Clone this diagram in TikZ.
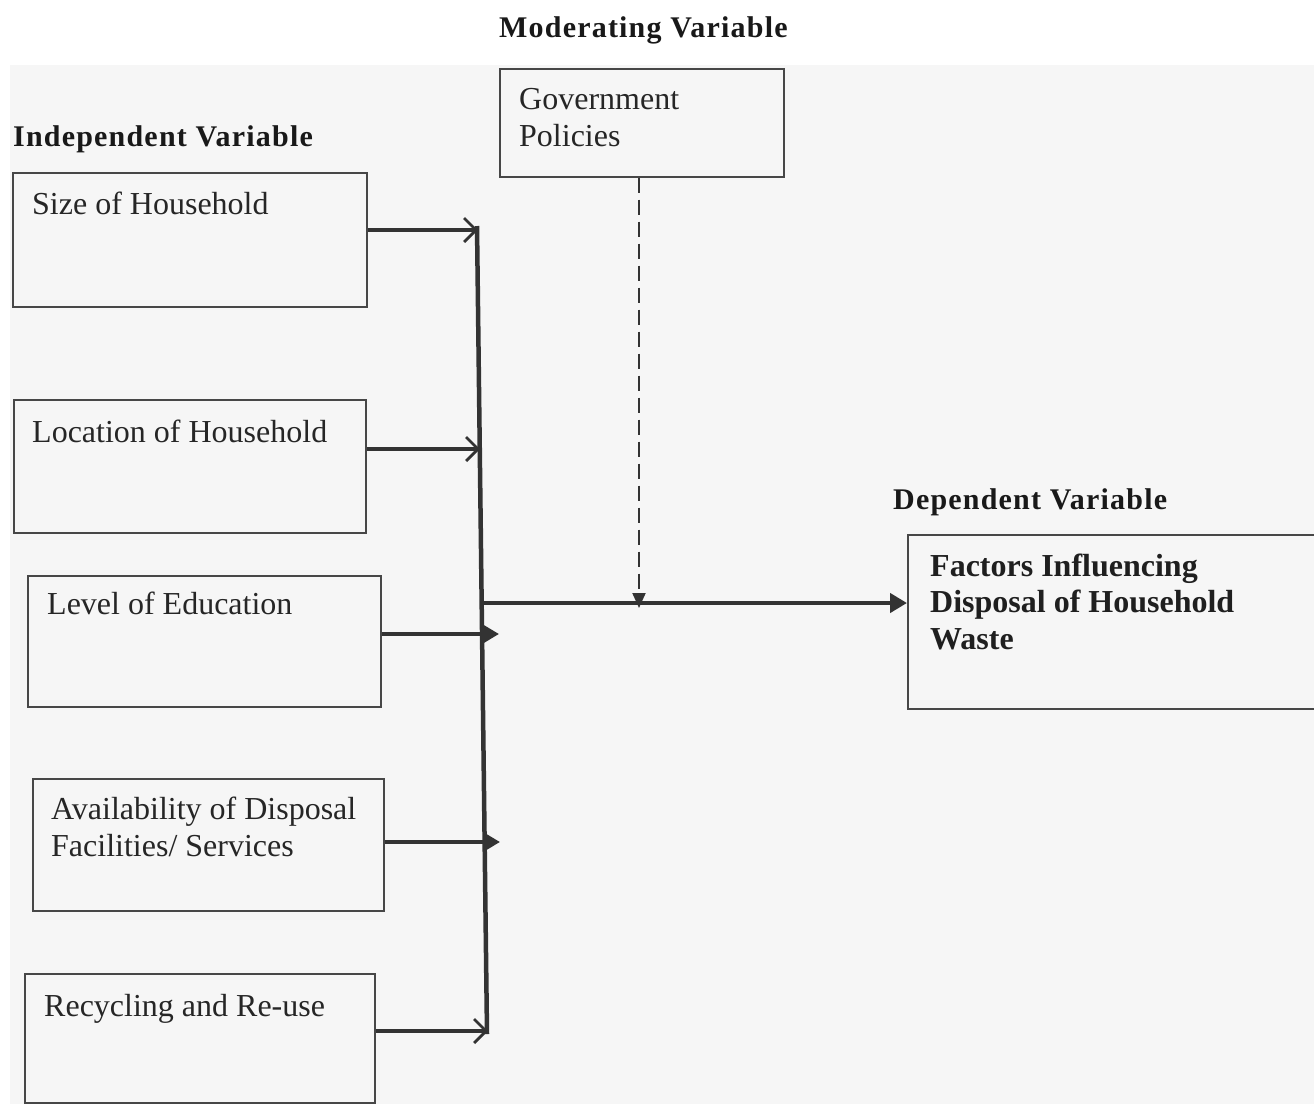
\documentclass[tikz,border=0pt]{standalone}
\usepackage{fontspec}
\setmainfont{Liberation Serif}
\newfontfamily\headfont[LetterSpace=4]{Liberation Serif}
\usetikzlibrary{arrows.meta,calc}
\begin{document}
\begin{tikzpicture}[x=1pt,y=-1pt,
  box/.style={draw=black!72, line width=1.6pt, anchor=north west, inner sep=0pt},
  txt/.style={anchor=base west, inner sep=0pt, font=\fontsize{32}{37}\selectfont, text=black!85},
  btxt/.style={anchor=base west, inner sep=0pt, font=\bfseries\fontsize{32}{37}\selectfont, text=black!88},
  head/.style={anchor=base west, inner sep=0pt, font=\headfont\bfseries\fontsize{30}{34}\selectfont, text=black!90},
  conn/.style={line width=4pt, draw=black!80},
  barb/.style={-{Straight Barb[length=12pt,width=24pt,line width=2.8pt]}},
  tri/.style={-{Triangle[length=17pt,width=19pt]}}]
\clip (0,0) rectangle (1314,1104);
\useasboundingbox (0,0) rectangle (1314,1104);
\fill[white] (0,0) rectangle (1314,1104);
\fill[gray!7] (10,65) rectangle (1314,1104);

% headings
\node[head] (modlbl) at (499,37) {Moderating Variable};
\node[head] (indlbl) at (13,146) {Independent Variable};
\node[head] (deplbl) at (893,509) {Dependent Variable};

% boxes
\node[box, minimum width=284pt, minimum height=108pt] (gov) at (499,68) {};
\node[box, minimum width=354pt, minimum height=134pt] (size) at (12,172) {};
\node[box, minimum width=352pt, minimum height=133pt] (loc) at (13,399) {};
\node[box, minimum width=353pt, minimum height=131pt] (lev) at (27,575) {};
\node[box, minimum width=351pt, minimum height=132pt] (avail) at (32,778) {};
\node[box, minimum width=350pt, minimum height=129pt] (rec) at (24,973) {};
\node[box, minimum width=420pt, minimum height=174pt] (fact) at (907,534) {};

% box texts
\node[txt] (gov1) at ($(gov.north west)+(20,41)$) {Government};
\node[txt] (gov2) at ($(gov.north west)+(20,78)$) {Policies};
\node[txt] (sizet) at ($(size.north west)+(20,42)$) {Size of Household};
\node[txt] (loct) at ($(loc.north west)+(19,43)$) {Location of Household};
\node[txt] (levt) at ($(lev.north west)+(20,39)$) {Level of Education};
\node[txt] (avail1) at ($(avail.north west)+(19,41)$) {Availability of Disposal};
\node[txt] (avail2) at ($(avail.north west)+(19,78)$) {Facilities/ Services};
\node[txt] (rect) at ($(rec.north west)+(20,43)$) {Recycling and Re-use};
\node[btxt] (fact1) at ($(fact.north west)+(23,42)$) {Factors Influencing};
\node[btxt] (fact2) at ($(fact.north west)+(23,78)$) {Disposal of Household};
\node[btxt] (fact3) at ($(fact.north west)+(23,115)$) {Waste};

% bus
\coordinate (bt) at (477,226);
\coordinate (bb) at (487,1034);
\draw[conn, line width=4.5pt] (bt) -- (bb);

\coordinate (e1) at (478,230);
\coordinate (e2) at (480,449);
\coordinate (e3) at (499,634);
\coordinate (e4) at (500,842);
\coordinate (e5) at (488,1031);
\coordinate (m0) at (481,603);
\coordinate (d1) at (639,608);

\draw[conn, barb] ($(size.north east)+(0,58)$) -- (e1);
\draw[conn, barb] ($(loc.north east)+(0,50)$) -- (e2);
\draw[conn, tri] ($(lev.north east)+(0,59)$) -- (e3);
\draw[conn, tri] ($(avail.north east)+(0,64)$) -- (e4);
\draw[conn, barb] ($(rec.north east)+(0,58)$) -- (e5);
\draw[conn, line width=4.5pt, tri] (m0) -- ($(fact.north west)+(0,69)$);
\draw[draw=black!80, line width=2pt, dash pattern=on 15pt off 7pt, -{Triangle[length=15pt,width=13pt]}] ($(gov.south west)+(140,0)$) -- (d1);
\end{tikzpicture}
\end{document}
